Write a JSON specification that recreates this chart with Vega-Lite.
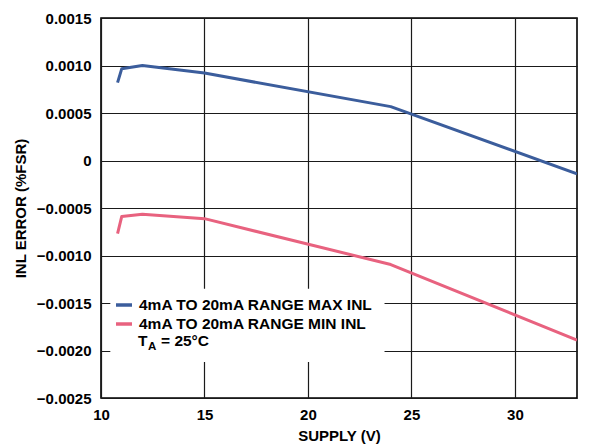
{
  "$schema": "https://vega.github.io/schema/vega-lite/v6.json",
  "autosize": {"type": "none"},
  "padding": {"left": 101, "top": 18, "right": 13, "bottom": 48},
  "width": 476,
  "height": 380,
  "background": "white",
  "config": {
    "font": "Liberation Sans",
    "view": {"stroke": "#000", "strokeWidth": 1.6},
    "axis": {
      "grid": true,
      "gridColor": "#1a1a1a",
      "gridWidth": 1.2,
      "ticks": false,
      "domain": false,
      "labelFlush": false,
      "labelFont": "Liberation Sans",
      "labelFontWeight": "bold",
      "labelFontSize": 15,
      "labelColor": "#000",
      "titleFont": "Liberation Sans",
      "titleFontWeight": "bold",
      "titleFontSize": 15,
      "titleColor": "#000"
    },
    "legend": {
      "orient": "none",
      "legendX": 13,
      "legendY": 277,
      "padding": 0,
      "symbolType": "stroke",
      "symbolSize": 256,
      "symbolStrokeWidth": 3.5,
      "labelFont": "Liberation Sans",
      "labelFontWeight": "bold",
      "labelFontSize": 15.5,
      "labelColor": "#000",
      "labelOffset": 5,
      "labelLimit": 400,
      "rowPadding": 0
    }
  },
  "layer": [
    {
      "data": {"values": [{}]},
      "mark": {"type": "rect", "fill": "white", "stroke": null},
      "encoding": {
        "x": {"datum": 10.45, "type": "quantitative"},
        "x2": {"datum": 23.7},
        "y": {"datum": -0.00135, "type": "quantitative"},
        "y2": {"datum": -0.00212}
      }
    },
    {
      "data": {
        "values": [
          {"supply": 10.8, "inl": 0.00082, "series": "4mA TO 20mA RANGE MAX INL"},
          {"supply": 11.0, "inl": 0.000965, "series": "4mA TO 20mA RANGE MAX INL"},
          {"supply": 12.0, "inl": 0.001, "series": "4mA TO 20mA RANGE MAX INL"},
          {"supply": 15.0, "inl": 0.00092, "series": "4mA TO 20mA RANGE MAX INL"},
          {"supply": 24.0, "inl": 0.000567, "series": "4mA TO 20mA RANGE MAX INL"},
          {"supply": 33.0, "inl": -0.00014, "series": "4mA TO 20mA RANGE MAX INL"},
          {"supply": 10.8, "inl": -0.00077, "series": "4mA TO 20mA RANGE MIN INL"},
          {"supply": 11.0, "inl": -0.00059, "series": "4mA TO 20mA RANGE MIN INL"},
          {"supply": 12.0, "inl": -0.000565, "series": "4mA TO 20mA RANGE MIN INL"},
          {"supply": 15.0, "inl": -0.000612, "series": "4mA TO 20mA RANGE MIN INL"},
          {"supply": 24.0, "inl": -0.001095, "series": "4mA TO 20mA RANGE MIN INL"},
          {"supply": 33.0, "inl": -0.00189, "series": "4mA TO 20mA RANGE MIN INL"}
        ]
      },
      "mark": {"type": "line", "strokeWidth": 3, "strokeJoin": "round", "clip": true},
      "encoding": {
        "x": {
          "field": "supply",
          "type": "quantitative",
          "scale": {"domain": [10, 33], "nice": false, "zero": false},
          "axis": {
            "title": "SUPPLY (V)",
            "values": [10, 15, 20, 25, 30],
            "labelPadding": 9,
            "titlePadding": 6
          }
        },
        "y": {
          "field": "inl",
          "type": "quantitative",
          "scale": {"domain": [-0.0025, 0.0015], "nice": false, "zero": false},
          "axis": {
            "title": "INL ERROR (%FSR)",
            "values": [-0.0025, -0.002, -0.0015, -0.001, -0.0005, 0, 0.0005, 0.001, 0.0015],
            "labelExpr": "datum.value == 0 ? '0' : format(datum.value, '.4f')",
            "labelPadding": 10,
            "titlePadding": 8
          }
        },
        "color": {
          "field": "series",
          "type": "nominal",
          "scale": {
            "domain": ["4mA TO 20mA RANGE MAX INL", "4mA TO 20mA RANGE MIN INL"],
            "range": ["#3b5d9c", "#e8627f"]
          },
          "legend": {"title": null}
        }
      }
    },
    {
      "data": {"values": [{}]},
      "mark": {"type": "text", "align": "left", "baseline": "alphabetic", "font": "Liberation Sans", "fontWeight": "bold", "fontSize": 15.5, "color": "#000"},
      "encoding": {
        "x": {"datum": 11.79, "type": "quantitative"},
        "y": {"datum": -0.001955, "type": "quantitative"},
        "text": {"value": "T"}
      }
    },
    {
      "data": {"values": [{}]},
      "mark": {"type": "text", "align": "left", "baseline": "alphabetic", "font": "Liberation Sans", "fontWeight": "bold", "fontSize": 11.5, "color": "#000"},
      "encoding": {
        "x": {"datum": 12.27, "type": "quantitative"},
        "y": {"datum": -0.00199, "type": "quantitative"},
        "text": {"value": "A"}
      }
    },
    {
      "data": {"values": [{}]},
      "mark": {"type": "text", "align": "left", "baseline": "alphabetic", "font": "Liberation Sans", "fontWeight": "bold", "fontSize": 15.5, "color": "#000"},
      "encoding": {
        "x": {"datum": 12.9, "type": "quantitative"},
        "y": {"datum": -0.001955, "type": "quantitative"},
        "text": {"value": "= 25°C"}
      }
    }
  ]
}
